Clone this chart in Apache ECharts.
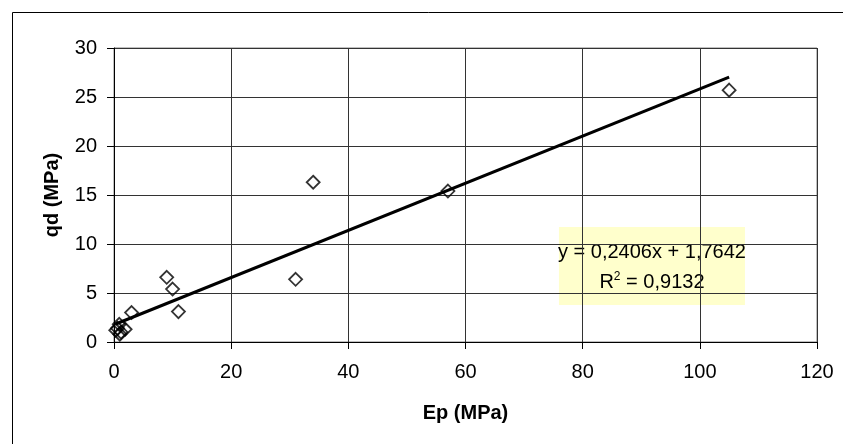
<!DOCTYPE html>
<html>
<head>
<meta charset="utf-8">
<script src="https://cdn.jsdelivr.net/npm/echarts@6/dist/echarts.min.js"></script>
<style>
html,body{margin:0;padding:0;background:#fff;}
#chart{width:843px;height:444px;}
</style>
</head>
<body>
<div id="chart"></div>
<script>
// Data
const epValues = [105, 57, 34, 31, 9, 10, 11, 3, 0.3, 0.9, 1.9, 1.0, 1.2, 0.6];
const qdValues = [25.7, 15.4, 16.3, 6.4, 6.6, 5.4, 3.1, 3.0, 1.2, 1.8, 1.3, 0.8, 1.0, 1.4];
const trendSlope = 0.2406;
const trendIntercept = 1.7642;
const trendText = ['y = 0,2406x + 1,7642', 'R{sup|2} = 0,9132'];
const xAxisTitle = 'Ep (MPa)';
const yAxisTitle = 'qd (MPa)';

const points = epValues.map((x, i) => [x, qdValues[i]]);
const xMin = Math.min(...epValues), xMax = Math.max(...epValues);
const trendLine = [
  [xMin, trendSlope * xMin + trendIntercept],
  [xMax, trendSlope * xMax + trendIntercept]
];

const FONT = '"Liberation Sans", Arial, sans-serif';
const chart = echarts.init(document.getElementById('chart'), null, {renderer: 'canvas'});
chart.setOption({
  animation: false,
  backgroundColor: '#fff',
  grid: {left: 114, top: 48, right: 26, bottom: 102, show: true, borderColor: '#808080', borderWidth: 1},
  xAxis: {
    type: 'value', min: 0, max: 120, interval: 20,
    name: xAxisTitle, nameLocation: 'middle', nameGap: 61,
    nameTextStyle: {fontFamily: FONT, fontSize: 20, fontWeight: 'bold', color: '#000'},
    axisLine: {show: true, onZero: false, lineStyle: {color: '#000', width: 1}},
    axisTick: {show: true, inside: false, length: 7, lineStyle: {color: '#000'}},
    axisLabel: {fontFamily: FONT, fontSize: 20, color: '#000', margin: 20},
    splitLine: {show: true, lineStyle: {color: '#333', width: 1}}
  },
  yAxis: {
    type: 'value', min: 0, max: 30, interval: 5,
    name: yAxisTitle, nameLocation: 'middle', nameGap: 52, nameRotate: 90,
    nameTextStyle: {fontFamily: FONT, fontSize: 20, fontWeight: 'bold', color: '#000'},
    axisLine: {show: true, onZero: false, lineStyle: {color: '#000', width: 1}},
    axisTick: {show: true, inside: false, length: 7, lineStyle: {color: '#000'}},
    axisLabel: {fontFamily: FONT, fontSize: 20, color: '#000', margin: 17},
    splitLine: {show: true, lineStyle: {color: '#333', width: 1}}
  },
  series: [
    {
      type: 'scatter',
      data: points,
      symbol: 'diamond',
      symbolSize: 13,
      itemStyle: {color: 'rgba(0,0,0,0)', borderColor: '#000', borderWidth: 1.8},
      z: 3
    },
    {
      type: 'line',
      data: trendLine,
      showSymbol: false,
      symbol: 'none',
      lineStyle: {color: '#000', width: 3},
      z: 4
    }
  ],
  graphic: [
    {
      type: 'rect', left: 12, top: 12, z: -10, silent: true,
      shape: {width: 900, height: 500},
      style: {fill: '#fff', stroke: '#000', lineWidth: 1}
    },
    {
      type: 'group', left: 558, top: 227, z: 100,
      children: [
        {type: 'rect', shape: {x: 0, y: 0, width: 186, height: 78}, style: {fill: '#FFFFCC', stroke: 'none'}},
        {type: 'text', x: 93, y: 25, style: {text: trendText[0], font: '20px ' + FONT, fill: '#000', align: 'center', verticalAlign: 'middle'}},
        {type: 'text', x: 93, y: 55, style: {
          text: trendText[1], fill: '#000', align: 'center', verticalAlign: 'middle',
          font: '20px ' + FONT,
          rich: {sup: {fontSize: 12, fontFamily: FONT, verticalAlign: 'top', padding: [0, 0, 10, 0]}}
        }}
      ]
    }
  ]
});
</script>
</body>
</html>
